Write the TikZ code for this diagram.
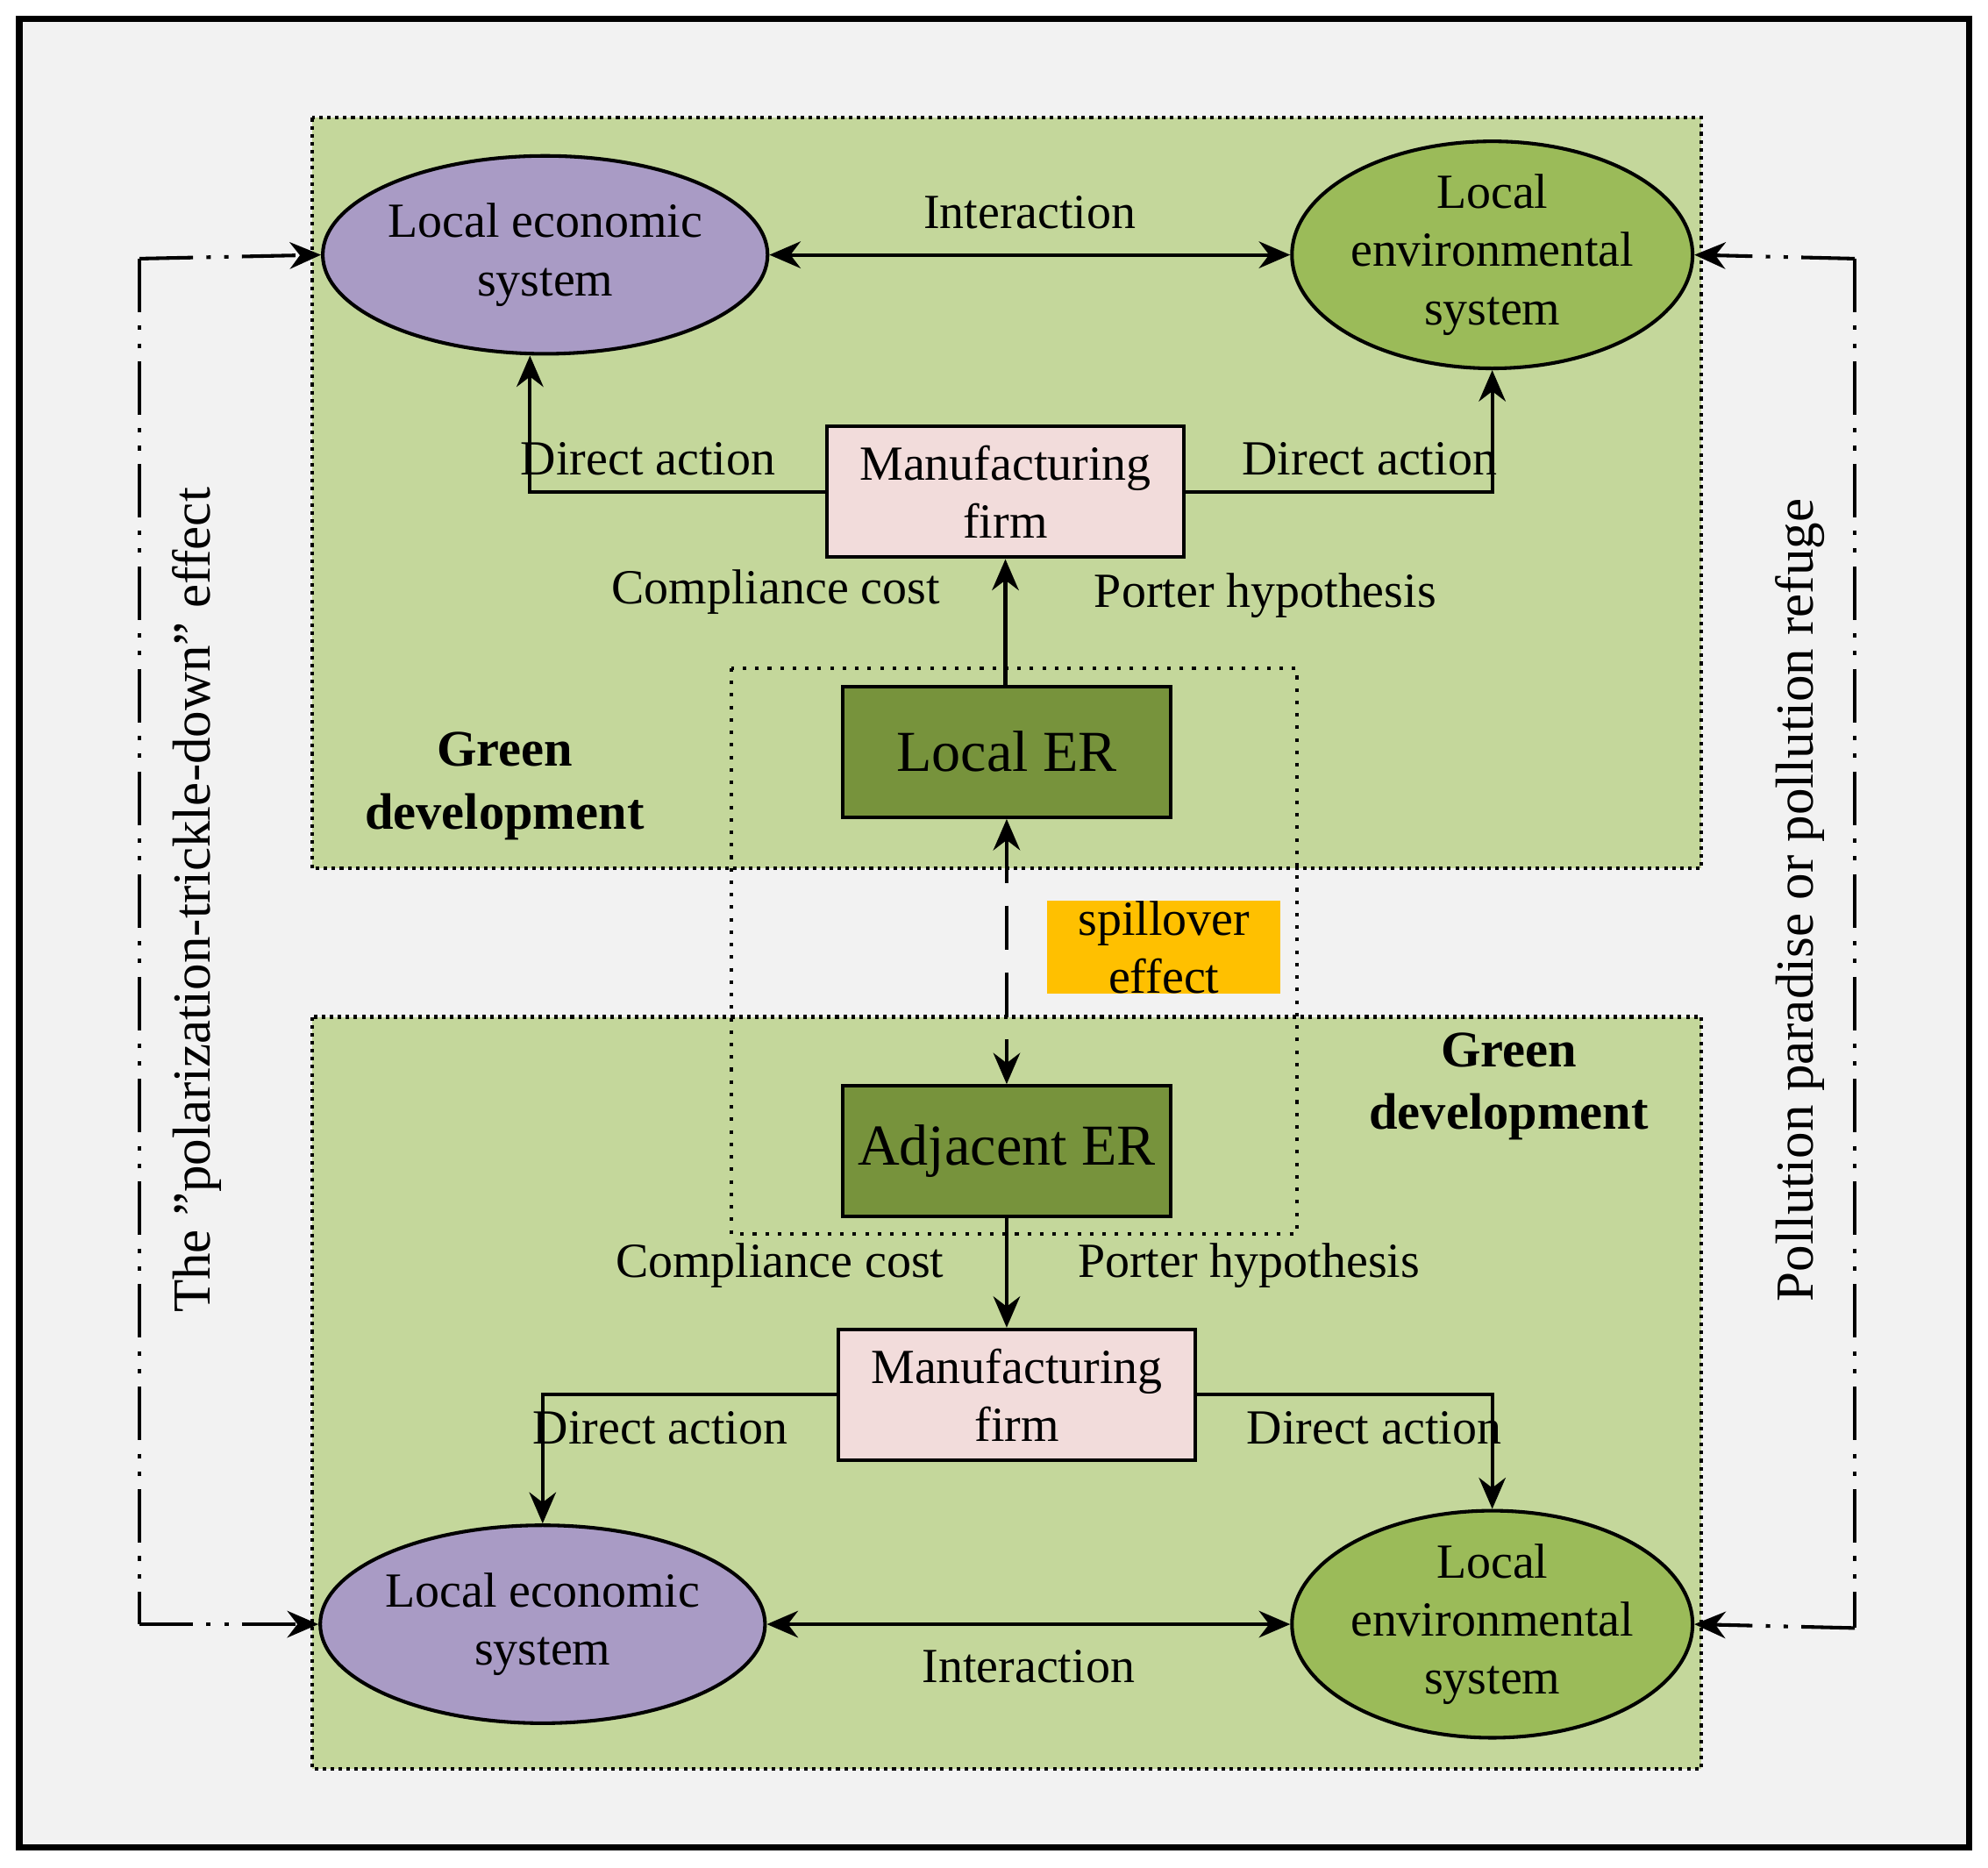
\documentclass[tikz,border=0pt]{standalone}
\usepackage{fontspec}
\setmainfont{Liberation Serif}
\usetikzlibrary{arrows.meta,shapes.geometric}
\definecolor{bg}{HTML}{F2F2F2}
\definecolor{gbox}{HTML}{C4D79B}
\definecolor{purp}{HTML}{A99BC5}
\definecolor{genv}{HTML}{9BBB59}
\definecolor{pinkb}{HTML}{F2DCDB}
\definecolor{erg}{HTML}{77933C}
\definecolor{orng}{HTML}{FFC000}
\begin{document}
\begin{tikzpicture}[x=0.01cm,y=-0.01cm,
  every node/.style={font=\fontsize{11}{13}\selectfont,align=center},
  ell/.style={ellipse,draw,thick,minimum width=296\pgflinewidth*0+2.96cm,minimum height=1.56cm,inner sep=0pt},
  box/.style={draw,thick,minimum width=2.81cm,minimum height=1.03cm,inner sep=1pt},
  er/.style={draw,thick,fill=erg,minimum width=2.58cm,minimum height=1.03cm,font=\fontsize{13}{15}\selectfont},
  arr/.style={-{Stealth[length=7pt,width=6pt]},thick},
  barr/.style={{Stealth[length=7pt,width=6pt]}-{Stealth[length=7pt,width=6pt]},thick},
  gd/.style={font=\bfseries\fontsize{11.5}{14}\selectfont},
  lbl/.style={font=\fontsize{11}{13}\selectfont}]
\useasboundingbox (0,0) rectangle (1568,1473);
\draw[line width=1.5pt,fill=bg] (15,15) rectangle (1553,1457);
\draw[fill=gbox,densely dotted,thick] (246,93) rectangle (1342,685);
\draw[fill=gbox,densely dotted,thick] (246,802) rectangle (1342,1395);
\draw[dotted,thick] (577,527) rectangle (1023,973);

\node[ell,fill=purp] (le1) at (430,201) {Local economic\\system};
\node[ell,fill=genv] (en1) at (1177,201) {Local\\environmental\\system};
\node[ell,fill=purp] (le2) at (428,1281) {Local economic\\system};
\node[ell,fill=genv] (en2) at (1177,1281) {Local\\environmental\\system};
\node[box,fill=pinkb] (mf1) at (793,388) {Manufacturing\\firm};
\node[box,fill=pinkb] (mf2) at (802,1100) {Manufacturing\\firm};
\node[er] (ler) at (794,593) {Local ER};
\node[er] (aer) at (794,908) {Adjacent ER};
\node[fill=orng,minimum width=1.84cm,minimum height=0.68cm,inner sep=0pt] (sp) at (918,747) {spillover\\effect};

\draw[barr] (le1.east) -- node[above=2pt,lbl]{Interaction} (en1.west);
\draw[barr] (le2.east) -- node[below=2pt,lbl]{Interaction} (en2.west);
\draw[arr] (mf1.west) -| node[pos=0.3,above,lbl]{Direct action} (le1.south -| 418,0);
\draw[arr] (mf1.east) -| node[pos=0.3,above,lbl]{Direct action} (en1.south);
\draw[arr] (ler.north -| mf1.south) -- (mf1.south);
\draw[arr] (mf2.west) -| node[pos=0.3,below,lbl]{Direct action} (le2.north);
\draw[arr] (mf2.east) -| node[pos=0.3,below,lbl]{Direct action} (en2.north);
\draw[arr] (aer.south) -- (aer.south |- mf2.north);
\draw[barr,dashed,dash pattern=on 10pt off 5pt] (ler.south) -- (aer.north);

\node[lbl] (cc1) at (612,467) {Compliance cost};
\node[lbl] (ph1) at (998,470) {Porter hypothesis};
\node[lbl] (cc2) at (615,998) {Compliance cost};
\node[lbl] (ph2) at (985,998) {Porter hypothesis};
\node[gd] (g1) at (398,620) {Green\\development};
\node[gd] (g2) at (1190,857) {Green\\development};

\coordinate (l1) at (110,204);
\coordinate (l2) at (110,1281);
\coordinate (r1) at (1463,204);
\coordinate (r2) at (1463,1284);
\tikzset{dd/.style={thick,dash pattern=on 12pt off 3pt on 1pt off 3pt on 1pt off 3pt}}
\draw[dd,arr] (l1) -- (le1.west);
\draw[dd] (l1) -- (l2);
\draw[dd,arr] (l2) -- (le2.west);
\draw[dd,arr] (r1) -- (en1.east);
\draw[dd] (r1) -- (r2);
\draw[dd,arr] (r2) -- (en2.east);
\node[rotate=90,lbl,font=\fontsize{12}{14}\selectfont] (tl) at (155,710) {The "polarization-trickle-down" effect};
\node[rotate=90,lbl,font=\fontsize{12}{14}\selectfont] (tr) at (1420,710) {Pollution paradise or pollution refuge};
\end{tikzpicture}
\end{document}
